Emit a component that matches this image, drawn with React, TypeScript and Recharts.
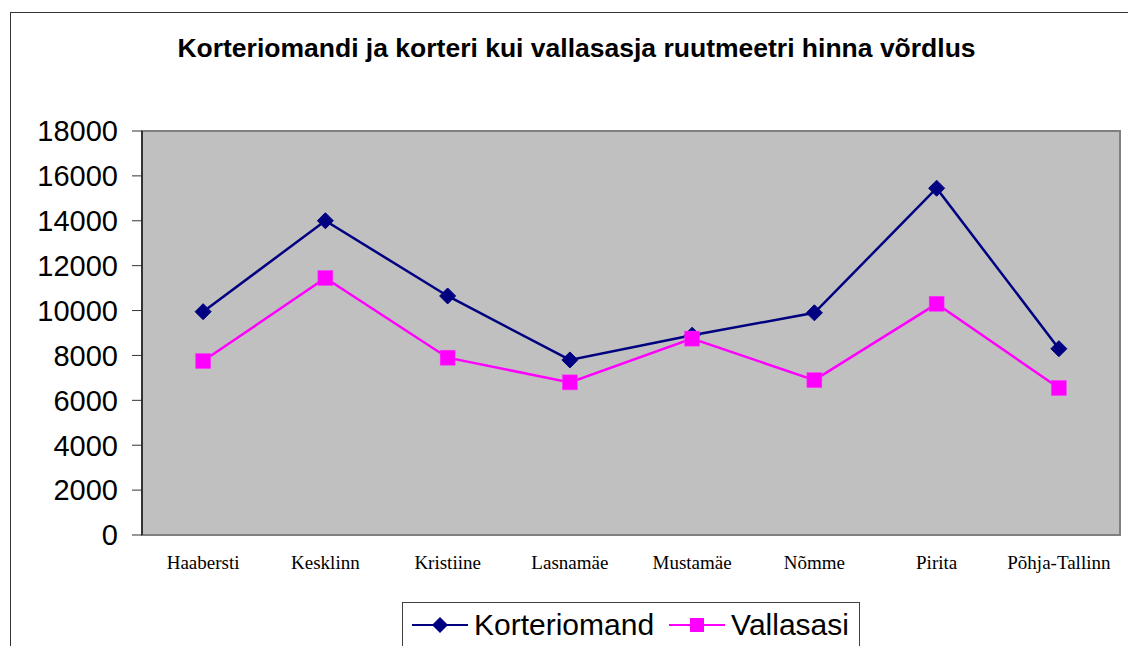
import { LineChart, Line, XAxis, YAxis, CartesianGrid, ReferenceArea } from "recharts";

const districts = [
  "Haabersti",
  "Kesklinn",
  "Kristiine",
  "Lasnamäe",
  "Mustamäe",
  "Nõmme",
  "Pirita",
  "Põhja-Tallinn",
];
const korteriomand = [9950, 14000, 10650, 7800, 8900, 9900, 15450, 8300];
const vallasasi = [7750, 11450, 7900, 6800, 8750, 6900, 10300, 6550];
const yTicks = [0, 2000, 4000, 6000, 8000, 10000, 12000, 14000, 16000, 18000];
const boundaryTicks = [0, 1, 2, 3, 4, 5, 6, 7, 8];
const centerTicks = districts.map((_, i) => i + 0.5);

const title = "Korteriomandi ja korteri kui vallasasja ruutmeetri hinna võrdlus";

const NAVY = "#000080";
const MAGENTA = "#FF00FF";

const data = districts.map((name, i) => ({
  name,
  idx: i + 0.5,
  korteriomand: korteriomand[i],
  vallasasi: vallasasi[i],
}));

const Diamond = (props: any) => {
  const { cx, cy } = props;
  if (cx == null || cy == null) return null;
  const r = 8;
  return (
    <polygon
      points={`${cx},${cy - r} ${cx + r},${cy} ${cx},${cy + r} ${cx - r},${cy}`}
      fill={NAVY}
      stroke={NAVY}
    />
  );
};

const Square = (props: any) => {
  const { cx, cy } = props;
  if (cx == null || cy == null) return null;
  return <rect x={cx - 7.5} y={cy - 7.5} width={15} height={15} fill={MAGENTA} stroke="#ff33ff" strokeWidth={0.5} />;
};

const LegendEntry = ({ color, label, square }: { color: string; label: string; square?: boolean }) => (
  <span style={{ display: "inline-flex", alignItems: "center", marginRight: 14 }}>
    <svg width={58} height={20} style={{ marginRight: 5 }}>
      <line x1={1} y1={10} x2={57} y2={10} stroke={color} strokeWidth={2} />
      {square ? (
        <rect x={22} y={3} width={14} height={14} fill={color} />
      ) : (
        <polygon points="29,2 37,10 29,18 21,10" fill={color} />
      )}
    </svg>
    <span>{label}</span>
  </span>
);

const App = () => {
  return (
    <div
      style={{
        position: "absolute",
        left: 0,
        top: 0,
        width: 1128,
        height: 646,
        overflow: "hidden",
        background: "#fff",
        fontFamily: "'Liberation Sans', Arial, sans-serif",
      }}
    >
      <div
        style={{
          position: "absolute",
          left: 10,
          top: 12,
          width: 1140,
          height: 700,
          borderLeft: "1.5px solid #333",
          borderTop: "1.5px solid #333",
        }}
      />
      <div
        style={{
          position: "absolute",
          left: 0,
          top: 33,
          width: 1153,
          textAlign: "center",
          fontWeight: "bold",
          fontSize: 26.5,
          color: "#000",
        }}
      >
        {title}
      </div>
      <div style={{ position: "absolute", left: 0, top: 0 }}>
        <LineChart width={1128} height={646} data={data} margin={{ top: 131, right: 8, left: 0, bottom: 71 }}>
          <CartesianGrid vertical={false} stroke="#000" fill="#C0C0C0" />
          <ReferenceArea yAxisId="y" xAxisId="b" y1={0} y2={18000} x1={0} x2={8} fill="none" stroke="#808080" strokeWidth={2} />
          <XAxis
            xAxisId="b"
            type="number"
            dataKey="idx"
            domain={[0, 8]}
            ticks={boundaryTicks}
            tickFormatter={() => ""}
            height={0}
            tickSize={6}
            axisLine={{ stroke: "#333", strokeWidth: 2 }}
            tickLine={{ stroke: "#333" }}
          />
          <XAxis
            xAxisId="lab"
            type="number"
            dataKey="idx"
            domain={[0, 8]}
            ticks={centerTicks}
            tickFormatter={(v: number) => districts[Math.floor(v)]}
            axisLine={false}
            tickLine={false}
            height={40}
            tickSize={6}
            tickMargin={15}
            interval={0}
            tick={{ fill: "#000", fontSize: 19, fontFamily: "'Liberation Serif', 'Times New Roman', serif" }}
          />
          <YAxis
            yAxisId="y"
            width={142}
            domain={[0, 18000]}
            ticks={yTicks}
            interval={0}
            tickSize={10}
            tickMargin={14}
            axisLine={{ stroke: "#333", strokeWidth: 2 }}
            tickLine={{ stroke: "#333" }}
            tick={{ fill: "#000", fontSize: 29, fontFamily: "'Liberation Sans', Arial, sans-serif" }}
          />
          <Line
            xAxisId="lab"
            yAxisId="y"
            type="linear"
            dataKey="korteriomand"
            name="Korteriomand"
            stroke={NAVY}
            strokeWidth={2.5}
            dot={<Diamond />}
            activeDot={false}
            isAnimationActive={false}
          />
          <Line
            xAxisId="lab"
            yAxisId="y"
            type="linear"
            dataKey="vallasasi"
            name="Vallasasi"
            stroke={MAGENTA}
            strokeWidth={2.5}
            dot={<Square />}
            activeDot={false}
            isAnimationActive={false}
          />
        </LineChart>
      </div>
      <div
        style={{
          position: "absolute",
          left: 402,
          top: 602,
          width: 458,
          height: 60,
          border: "1px solid #404040",
          background: "#fff",
          fontSize: 30,
          lineHeight: "44px",
          paddingLeft: 8,
          boxSizing: "border-box",
          whiteSpace: "nowrap",
        }}
      >
        <LegendEntry color={NAVY} label="Korteriomand" />
        <LegendEntry color={MAGENTA} label="Vallasasi" square />
      </div>
    </div>
  );
};

export default App;
